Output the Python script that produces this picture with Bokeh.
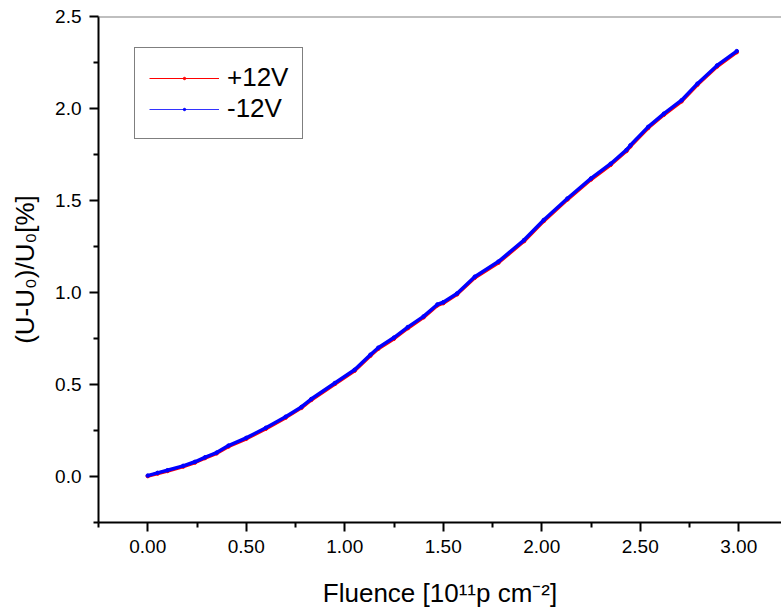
from bokeh.plotting import figure
from bokeh.models import (FixedTicker, Legend, LegendItem, Span, Range1d,
                          NumeralTickFormatter, ColumnDataSource)
from bokeh.embed import file_html
from bokeh.resources import INLINE

# ---- data ----
fluence = [0.00, 0.05, 0.10, 0.18, 0.24, 0.29, 0.35, 0.41, 0.50, 0.60, 0.70,
           0.78, 0.83, 0.95, 1.05, 1.13, 1.17, 1.25, 1.32, 1.40, 1.47, 1.50,
           1.57, 1.66, 1.78, 1.91, 2.01, 2.13, 2.25, 2.35, 2.43, 2.45, 2.54,
           2.62, 2.71, 2.79, 2.89, 2.99]
plus12 = [0.002, 0.016, 0.030, 0.054, 0.076, 0.100, 0.126, 0.163, 0.205, 0.260,
          0.320, 0.373, 0.416, 0.503, 0.575, 0.656, 0.694, 0.749, 0.806, 0.865,
          0.930, 0.942, 0.990, 1.080, 1.162, 1.279, 1.388, 1.505, 1.614, 1.694,
          1.769, 1.794, 1.894, 1.966, 2.039, 2.129, 2.228, 2.306]
minus12 = [0.005, 0.020, 0.034, 0.058, 0.080, 0.104, 0.130, 0.168, 0.210, 0.265,
           0.325, 0.378, 0.421, 0.508, 0.580, 0.662, 0.700, 0.755, 0.812, 0.870,
           0.935, 0.947, 0.995, 1.086, 1.168, 1.285, 1.394, 1.511, 1.620, 1.700,
           1.775, 1.800, 1.900, 1.972, 2.045, 2.135, 2.234, 2.312]
series_labels = ["+12V", "-12V"]
x_ticks = [0.0, 0.5, 1.0, 1.5, 2.0, 2.5, 3.0]
x_minor = [-0.25, 0.25, 0.75, 1.25, 1.75, 2.25, 2.75]
y_ticks = [0.0, 0.5, 1.0, 1.5, 2.0, 2.5]
y_minor = [-0.25, 0.25, 0.75, 1.25, 1.75, 2.25]
x_title = "Fluence [10\u00b9\u00b9p cm\u207b\u00b2]"
y_title = "(U-U\u2080)/U\u2080[%]"

FONT = "Liberation Sans"

p = figure(width=781, height=610, output_backend="svg", toolbar_location=None,
           x_range=Range1d(-0.25, 3.217), y_range=Range1d(-0.25, 2.5),
           min_border_left=98, min_border_right=0, min_border_top=16,
           min_border_bottom=87)
p.xgrid.visible = False
p.ygrid.visible = False
p.outline_line_color = None
p.background_fill_color = "white"
p.border_fill_color = "white"

src = ColumnDataSource(dict(x=fluence, p=plus12, m=minus12))
# thin lines used for the legend (hidden under the thick ones)
lr = p.line("x", "p", source=src, line_color="#FF0000", line_width=1)
lb = p.line("x", "m", source=src, line_color="#3333FF", line_width=1)
p.line("x", "p", source=src, line_color="#FF0000", line_width=3.5)
rd = p.scatter("x", "p", source=src, color="#FF0000", size=3.5)
p.line("x", "m", source=src, line_color="#0000FF", line_width=3.5)
bd = p.scatter("x", "m", source=src, color="#0000FF", size=3.5)

legend = Legend(items=[LegendItem(label=series_labels[0], renderers=[lr, rd]),
                       LegendItem(label=series_labels[1], renderers=[lb, bd])],
                location=(36, 383), orientation="vertical")
legend.label_text_font = FONT
legend.label_text_font_size = "26px"
legend.label_text_color = "black"
legend.border_line_color = "black"
legend.border_line_width = 1.5
legend.background_fill_alpha = 1
legend.padding = 14
legend.margin = 0
legend.spacing = 0
legend.glyph_width = 70
legend.glyph_height = 6
legend.label_height = 20
legend.label_standoff = 8
p.add_layout(legend, "center")

p.add_layout(Span(location=2.5, dimension="width", line_color="#808080",
                  line_width=2))

p.xaxis.ticker = FixedTicker(ticks=x_ticks, minor_ticks=x_minor)
p.yaxis.ticker = FixedTicker(ticks=y_ticks, minor_ticks=y_minor)
p.xaxis.formatter = NumeralTickFormatter(format="0.00")
p.yaxis.formatter = NumeralTickFormatter(format="0.0")
p.xaxis.axis_label = x_title
p.yaxis.axis_label = y_title

for ax in (p.xaxis[0], p.yaxis[0]):
    ax.axis_line_width = 2
    ax.axis_line_color = "black"
    ax.major_tick_line_width = 2
    ax.minor_tick_line_width = 2
    ax.major_tick_line_color = "black"
    ax.minor_tick_line_color = "black"
    ax.major_tick_in = 0
    ax.major_tick_out = 9
    ax.minor_tick_in = 0
    ax.minor_tick_out = 5
    ax.major_label_text_font = FONT
    ax.major_label_text_font_size = "19px"
    ax.major_label_text_color = "black"
    ax.major_label_standoff = 8
    ax.axis_label_text_font = FONT
    ax.axis_label_text_font_size = "26px"
    ax.axis_label_text_font_style = "normal"
    ax.axis_label_text_color = "black"

p.xaxis.axis_label_standoff = 22
p.yaxis.axis_label_standoff = 12

open("out.html", "w").write(file_html(p, INLINE))
